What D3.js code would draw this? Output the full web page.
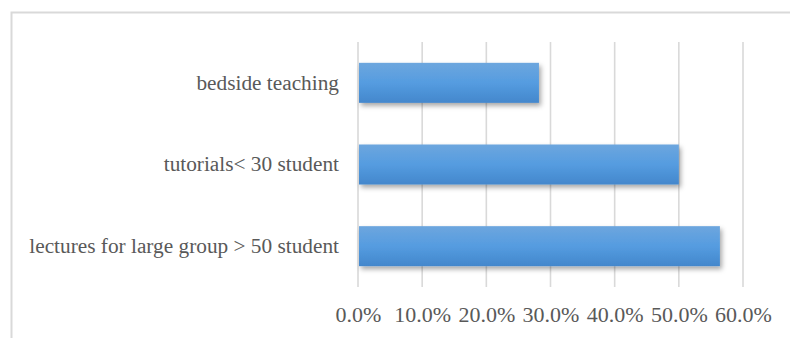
<!DOCTYPE html>
<html>
<head>
  <meta charset="utf-8">
  <script src="https://d3js.org/d3.v7.min.js"></script>
  <style>
    body { margin: 0; background: #fff; }
    text { font-family: "Liberation Serif", "Times New Roman", serif; fill: #595959; }
  </style>
</head>
<body>
  <div id="chart"></div>
  <script>
    // data
    var categories = ["bedside teaching", "tutorials< 30 student", "lectures for large group > 50 student"];
    var values = [0.282, 0.50, 0.564];
    var ticks = [0, 0.1, 0.2, 0.3, 0.4, 0.5, 0.6];

    var W = 790, H = 338;
    var margin = { top: 42, right: 47, bottom: 51, left: 358 },
      width = W - margin.left - margin.right,
      height = H - margin.top - margin.bottom;

    var svg = d3.select("#chart")
      .append("svg")
      .attr("width", W)
      .attr("height", H);

    // gradient + shadow for the bars
    var defs = svg.append("defs");
    var grad = defs.append("linearGradient")
      .attr("id", "barGrad")
      .attr("x1", 0).attr("y1", 0).attr("x2", 0).attr("y2", 1);
    grad.append("stop").attr("offset", "0%").attr("stop-color", "#6da6de");
    grad.append("stop").attr("offset", "50%").attr("stop-color", "#559ce0");
    grad.append("stop").attr("offset", "100%").attr("stop-color", "#4387cc");

    var shadow = defs.append("filter")
      .attr("id", "shadow")
      .attr("x", "-10%").attr("y", "-30%")
      .attr("width", "130%").attr("height", "180%");
    shadow.append("feDropShadow")
      .attr("dx", 2).attr("dy", 3)
      .attr("stdDeviation", 2.5)
      .attr("flood-color", "#000")
      .attr("flood-opacity", 0.35);

    // outer frame
    svg.append("rect")
      .attr("x", 11.5).attr("y", 12.5)
      .attr("width", W + 10).attr("height", H + 10)
      .attr("fill", "none")
      .attr("stroke", "#d9d9d9")
      .attr("stroke-width", 2);

    var g = svg.append("g")
      .attr("transform", "translate(" + margin.left + "," + margin.top + ")");

    var x = d3.scaleLinear()
      .domain([0, 0.6])
      .range([0, width]);

    var y = d3.scaleBand()
      .domain(categories)
      .range([0, height])
      .paddingInner(0.51)
      .paddingOuter(0.255);

    // gridlines
    g.selectAll(".grid")
      .data(ticks)
      .enter()
      .append("line")
      .attr("x1", function (d) { return x(d); })
      .attr("x2", function (d) { return x(d); })
      .attr("y1", 0)
      .attr("y2", height)
      .attr("stroke", "#d9d9d9")
      .attr("stroke-width", 1.6);

    // bars
    g.selectAll(".bar")
      .data(values)
      .enter()
      .append("rect")
      .attr("x", x(0) + 1)
      .attr("y", function (d, i) { return y(categories[i]); })
      .attr("width", function (d) { return x(d) - x(0) - 1; })
      .attr("height", y.bandwidth())
      .attr("fill", "url(#barGrad)")
      .attr("filter", "url(#shadow)");

    // x axis labels
    var xAxis = g.append("g")
      .attr("transform", "translate(0," + height + ")")
      .call(d3.axisBottom(x).tickValues(ticks).tickFormat(d3.format(".1%")).tickSize(0).tickPadding(19));
    xAxis.select(".domain").remove();
    xAxis.selectAll("text")
      .style("font-size", "22px")
      .attr("fill", "#595959")
      .style("font-family", "'Liberation Serif', 'Times New Roman', serif");

    // y axis labels
    var yAxis = g.append("g")
      .call(d3.axisLeft(y).tickSize(0).tickPadding(19));
    yAxis.select(".domain").remove();
    yAxis.selectAll("text")
      .style("font-size", "21.3px")
      .attr("fill", "#595959")
      .style("font-family", "'Liberation Serif', 'Times New Roman', serif");
  </script>
</body>
</html>
